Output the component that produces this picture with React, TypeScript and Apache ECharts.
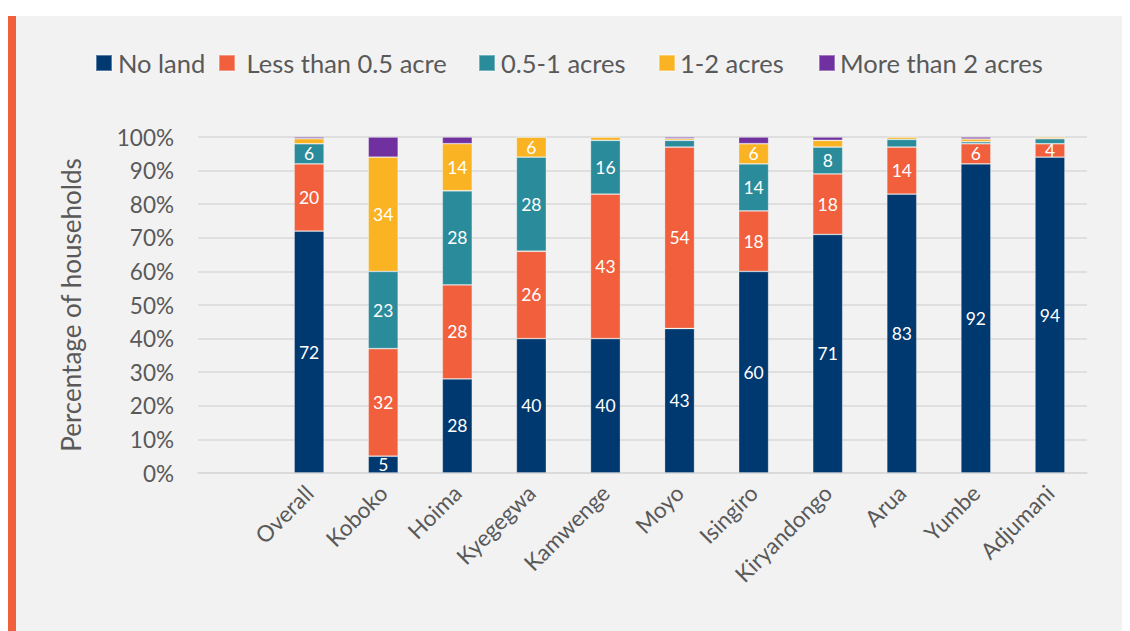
import React, { useEffect, useRef } from "react";
import * as echarts from "echarts";

const categories = ["", "Overall", "Koboko", "Hoima", "Kyegegwa", "Kamwenge", "Moyo", "Isingiro", "Kiryandongo", "Arua", "Yumbe", "Adjumani"];
const noLand = [null, 72, 5, 28, 40, 40, 43, 60, 71, 83, 92, 94];
const lessHalf = [null, 20, 32, 28, 26, 43, 54, 18, 18, 14, 6, 4];
const halfToOne = [null, 6, 23, 28, 28, 16, 2, 14, 8, 2.3, 0.6, 1.5];
const oneToTwo = [null, 1.5, 34, 14, 6, 1, 0.5, 6, 2, 0.7, 0.8, 0.5];
const moreThanTwo = [null, 0.5, 6, 2, 0, 0, 0.5, 2, 1, 0, 0.6, 0];
const yTicks = [0, 10, 20, 30, 40, 50, 60, 70, 80, 90, 100];

const seriesNames = ["No land", " Less than 0.5 acre", "0.5-1 acres", "1-2 acres", "More than 2 acres"];
const seriesColors = ["#003870", "#f15f3c", "#2a8b9b", "#fab322", "#7030a0"];
const seriesData = [noLand, lessHalf, halfToOne, oneToTwo, moreThanTwo];
const legendLeft = [87, 210, 470, 650, 810];
const legendTextPad = [1, 0, 1, 0, 0];

const FONT = "Lato, 'Noto Sans', sans-serif";
const GREY = "#595959";

export default function App() {
  const ref = useRef<HTMLDivElement>(null);
  useEffect(() => {
    if (!ref.current) return;
    const chart = echarts.init(ref.current, undefined, { renderer: "svg" });
    const legends = seriesNames.map((n, i) => ({
      data: [n],
      left: legendLeft[i],
      top: 34,
      padding: 0,
      itemWidth: 16,
      itemHeight: 16,
      icon: "rect",
      selectedMode: false,
      textStyle: { fontFamily: FONT, fontSize: 25.5, color: GREY, padding: [0, 0, 0, legendTextPad[i]] },
    }));
    chart.setOption({
      animation: false,
      backgroundColor: "#ffffff",
      graphic: [
        { type: "rect", left: 8, top: 0, shape: { width: 1114, height: 615 }, style: { fill: "#f2f2f2" }, z: -10 },
        { type: "rect", left: 0, top: 0, shape: { width: 8, height: 615 }, style: { fill: "#f15f3c" }, z: -9 },
      ],
      legend: legends,
      grid: { left: 190, right: 43, top: 121, bottom: 158 },
      xAxis: {
        type: "category",
        data: categories,
        axisLine: { show: true, lineStyle: { color: "#d9d9d9", width: 1.5 } },
        axisTick: { show: false },
        axisLabel: { rotate: 45, interval: 0, fontFamily: FONT, fontSize: 22.5, color: GREY, margin: 16 },
      },
      yAxis: {
        type: "value",
        min: 0,
        max: 100,
        interval: 10,
        name: "Percentage of households",
        nameLocation: "middle",
        nameGap: 114,
        nameTextStyle: { fontFamily: FONT, fontSize: 26, color: GREY },
        axisLine: { show: false },
        axisTick: { show: false },
        splitLine: { lineStyle: { color: "#d9d9d9", width: 1.5 } },
        axisLabel: {
          fontFamily: FONT,
          fontSize: 22.5,
          color: GREY,
          margin: 24,
          formatter: (v: number) => (yTicks.includes(v) ? v + "%" : ""),
        },
      },
      series: seriesNames.map((n, i) => ({
        name: n,
        type: "bar",
        stack: "total",
        barWidth: 30,
        data: seriesData[i],
        itemStyle: { color: seriesColors[i], borderColor: "rgba(255,255,255,0.35)", borderWidth: 0.8 },
        label: {
          show: i < 4,
          position: "inside",
          color: "#ffffff",
          fontFamily: FONT,
          fontSize: 17.5,
          formatter: (p: any) => (p.value >= 3 ? String(Math.round(p.value)) : ""),
        },
      })),
    });
    return () => chart.dispose();
  }, []);
  return (
    <div style={{ paddingTop: 8 }}>
      <div ref={ref} style={{ width: 1122, height: 615 }} />
    </div>
  );
}
